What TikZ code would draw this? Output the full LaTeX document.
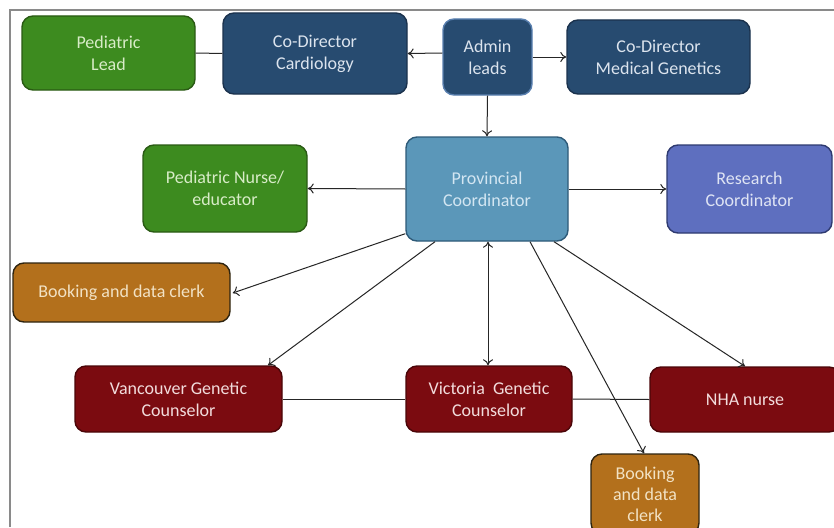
\documentclass[tikz,border=0pt]{standalone}
\usepackage{fontspec}
\setmainfont{Carlito}
\usetikzlibrary{arrows.meta}
\definecolor{gfill}{HTML}{3D8B1F}\definecolor{gdraw}{HTML}{2A5A14}\definecolor{gtext}{HTML}{D8ECC8}
\definecolor{bfill}{HTML}{274B70}\definecolor{bdraw}{HTML}{1B324D}\definecolor{btext}{HTML}{DCE4EE}
\definecolor{adraw}{HTML}{5A80B0}
\definecolor{pfill}{HTML}{5B97B9}\definecolor{pdraw}{HTML}{2E5A78}\definecolor{ptext}{HTML}{D3E6F2}
\definecolor{rfill}{HTML}{5E6FBF}\definecolor{rdraw}{HTML}{2E3A70}\definecolor{rtext}{HTML}{DFE4F4}
\definecolor{ofill}{HTML}{B3701C}\definecolor{odraw}{HTML}{2E2410}\definecolor{otext}{HTML}{F2E2C4}
\definecolor{dfill}{HTML}{7B0B10}\definecolor{ddraw}{HTML}{4A0508}\definecolor{dtext}{HTML}{F2DCDC}
\definecolor{framec}{HTML}{8A8A8A}
\begin{document}
\begin{tikzpicture}[x=1pt,y=-1pt,
  box/.style={rectangle,rounded corners=11pt,line width=1.4pt,align=center,
    font=\fontsize{18}{22}\selectfont,inner sep=2pt},
  greenbox/.style={box,fill=gfill,draw=gdraw,text=gtext},
  bluebox/.style={box,fill=bfill,draw=bdraw,text=btext},
  adminbox/.style={box,fill=bfill,draw=adraw,text=btext},
  provbox/.style={box,fill=pfill,draw=pdraw,text=ptext},
  resbox/.style={box,fill=rfill,draw=rdraw,text=rtext},
  orangebox/.style={box,fill=ofill,draw=odraw,text=otext},
  redbox/.style={box,fill=dfill,draw=ddraw,text=dtext},
  conn/.style={line width=1pt,draw=black!85},
  arr/.style={conn,-{To[length=6pt,width=10pt]}},
  darr/.style={conn,{To[length=6pt,width=10pt]}-{To[length=6pt,width=10pt]}}]
\useasboundingbox (0,0) rectangle (834,527);
\fill[white] (0,0) rectangle (834,527);
\draw[framec,line width=1.5pt] (10,527) -- (10,10) -- (834,10);

\node[greenbox,minimum width=173pt,minimum height=74pt] (plead) at (108.5,53) {Pediatric\\Lead};
\node[bluebox,minimum width=184pt,minimum height=81pt] (card) at (315,53.5) {Co-Director\\Cardiology};
\node[adminbox,minimum width=89pt,minimum height=76pt] (admin) at (487.5,57) {Admin\\leads};
\node[bluebox,minimum width=183pt,minimum height=74pt] (medgen) at (658.5,57) {Co-Director\\Medical Genetics};
\node[provbox,minimum width=162pt,minimum height=104pt] (prov) at (487,189) {Provincial\\Coordinator};
\node[resbox,minimum width=165pt,minimum height=88pt] (research) at (749.5,189) {Research\\Coordinator};
\node[greenbox,minimum width=164pt,minimum height=87pt] (nurse) at (225,188.5) {Pediatric Nurse/\\educator};
\node[orangebox,minimum width=217pt,minimum height=59pt] (bookL) at (121.5,292.5) {Booking and data clerk};
\node[redbox,minimum width=207pt,minimum height=66pt] (vanc) at (178.5,399) {Vancouver Genetic\\Counselor};
\node[redbox,minimum width=166pt,minimum height=66pt] (vict) at (489,399) {Victoria\ \ Genetic\\Counselor};
\node[redbox,minimum width=190pt,minimum height=65pt] (nha) at (745,399.5) {NHA nurse};
\node[orangebox,minimum width=108pt,minimum height=80pt] (bookB) at (645,494) {Booking\\[-1pt]and data\\[-1pt]clerk};

\draw[conn] (plead.east) -- (card.west);
\draw[arr] ([yshift=4pt]admin.west) -- (card.east);
\draw[arr] (admin.east) -- (medgen.west);
\draw[arr] (admin.south) -- (prov.north);
\draw[arr] (prov.west) -- (nurse.east);
\draw[arr] (prov.east) -- (research.west);
\draw[arr] ([yshift=8pt]prov.south west) -- ([xshift=2pt,yshift=-0.5pt]bookL.east);
\draw[arr] ([xshift=-52pt]prov.south) -- ([xshift=89.5pt]vanc.north);
\draw[darr] ([xshift=1pt]prov.south) -- ([xshift=-1pt]vict.north);
\draw[conn] (vanc.east) -- (vict.west);
\draw[conn] (vict.east) -- (nha.west);
\draw[arr] ([xshift=43pt]prov.south) -- ([xshift=-1pt]bookB.north);
\draw[arr] ([xshift=67pt]prov.south) -- (nha.north);
\end{tikzpicture}
\end{document}
